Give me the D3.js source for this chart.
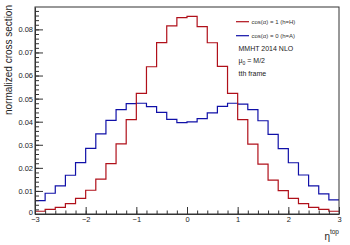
<!DOCTYPE html>
<html>
<head>
<meta charset="utf-8">
<script src="https://cdn.jsdelivr.net/npm/d3@7"></script>
<style>
  body { margin: 0; background: #fff; }
  svg { font-family: "Liberation Sans", Arial, sans-serif; }
</style>
</head>
<body>
<div class="graph"></div>
<script>
// bin edges run from -3 to 3 in steps of 0.2
const binLow = [-3.0, -2.8, -2.6, -2.4, -2.2, -2.0, -1.8, -1.6, -1.4, -1.2,
                -1.0, -0.8, -0.6, -0.4, -0.2, 0.0, 0.2, 0.4, 0.6, 0.8,
                1.0, 1.2, 1.4, 1.6, 1.8, 2.0, 2.2, 2.4, 2.6, 2.8];
const binHigh = 3.0;

// cos(alpha) = 1 (h=H)
const scalarVals = [0.0012, 0.0020, 0.0029, 0.0045, 0.0068, 0.0103, 0.0151, 0.0218, 0.0304, 0.0409,
                    0.0523, 0.0638, 0.0743, 0.0815, 0.0851, 0.0856, 0.0812, 0.0742, 0.0640, 0.0523,
                    0.0409, 0.0303, 0.0216, 0.0147, 0.0101, 0.0068, 0.0045, 0.0029, 0.0020, 0.0012];
// cos(alpha) = 0 (h=A)
const pseudoVals = [0.0058, 0.0090, 0.0122, 0.0168, 0.0223, 0.0284, 0.0347, 0.0406, 0.0452, 0.0478,
                    0.0480, 0.0465, 0.0440, 0.0410, 0.0396, 0.0399, 0.0413, 0.0438, 0.0466, 0.0480,
                    0.0476, 0.0452, 0.0404, 0.0345, 0.0283, 0.0222, 0.0169, 0.0122, 0.0087, 0.0061];

const xTicks = [-3, -2, -1, 0, 1, 2, 3];
const xTickLabels = ['\u22123', '\u22122', '\u22121', '0', '1', '2', '3'];
const yTicks = [0, 0.01, 0.02, 0.03, 0.04, 0.05, 0.06, 0.07, 0.08];
const yTickLabels = ['0', '0.01', '0.02', '0.03', '0.04', '0.05', '0.06', '0.07', '0.08'];
const legendLabels = ['cos(\u03b1) = 1 (h=H)', 'cos(\u03b1) = 0 (h=A)'];

const dim = { w: 350, h: 245, left: 35, right: 339, top: 7, bottom: 214 };
const red = '#b0101a';
const blue = '#1010a8';

const svg = d3.select('.graph').append('svg').attr('width', dim.w).attr('height', dim.h);

const xScale = d3.scaleLinear().domain([-3, 3]).range([dim.left, dim.right]);
const yScale = d3.scaleLinear().domain([0, 0.0897]).range([dim.bottom, dim.top]);

// histograms
const stepLine = d3.line()
    .x(d => xScale(d[0]))
    .y(d => yScale(d[1]))
    .curve(d3.curveStepAfter);

const toPts = vals => {
    const pts = binLow.map((b, i) => [b, vals[i]]);
    pts.push([binHigh, vals[vals.length - 1]]);
    return pts;
};

svg.append('path').attr('d', stepLine(toPts(pseudoVals)))
    .attr('fill', 'none').attr('stroke', blue).attr('stroke-width', 1.2);
svg.append('path').attr('d', stepLine(toPts(scalarVals)))
    .attr('fill', 'none').attr('stroke', red).attr('stroke-width', 1.2);

// frame
svg.append('rect')
    .attr('x', dim.left).attr('y', dim.top)
    .attr('width', dim.right - dim.left).attr('height', dim.bottom - dim.top)
    .attr('fill', 'none').attr('stroke', '#333').attr('stroke-width', 1);

// x axis (ticks pointing inside)
const xMinor = d3.range(-30, 31, 2).map(v => v / 10);
svg.append('g').attr('transform', `translate(0,${dim.bottom})`)
    .call(d3.axisBottom(xScale).tickValues(xMinor).tickFormat('').tickSize(-3.5).tickSizeOuter(0))
    .call(g => g.select('.domain').remove());
const xAxis = svg.append('g').attr('transform', `translate(0,${dim.bottom})`)
    .call(d3.axisBottom(xScale).tickValues(xTicks).tickFormat((d, i) => xTickLabels[i])
        .tickSize(-7).tickSizeOuter(0).tickPadding(3))
    .call(g => g.select('.domain').attr('stroke', '#333'));
xAxis.selectAll('text').attr('font-size', 7.5).attr('fill', '#222')
    .attr('font-family', '"Liberation Sans", Arial, sans-serif');

// y axis
const yMinor = d3.range(0, 45).map(v => v * 0.002);
svg.append('g').attr('transform', `translate(${dim.left},0)`)
    .call(d3.axisLeft(yScale).tickValues(yMinor).tickFormat('').tickSize(-4).tickSizeOuter(0))
    .call(g => g.select('.domain').remove());
const yAxis = svg.append('g').attr('transform', `translate(${dim.left},0)`)
    .call(d3.axisLeft(yScale).tickValues(yTicks).tickFormat((d, i) => yTickLabels[i])
        .tickSize(-8).tickSizeOuter(0).tickPadding(2))
    .call(g => g.select('.domain').attr('stroke', '#333'));
yAxis.selectAll('text').attr('font-size', 7.5).attr('fill', '#222')
    .attr('font-family', '"Liberation Sans", Arial, sans-serif');
// lift the "0" a little so it does not sit on the "-3"
yAxis.selectAll('.tick').filter(d => d === 0).select('text').attr('dy', '0.05em');
svg.selectAll('.tick line').attr('stroke', '#333');

// axis titles
svg.append('text')
    .attr('transform', `translate(12,${dim.top - 2}) rotate(-90)`)
    .attr('text-anchor', 'end').attr('font-size', 10).attr('fill', '#222')
    .text('normalized cross section');

const xt = svg.append('text').attr('x', dim.right).attr('y', 240)
    .attr('text-anchor', 'end').attr('font-size', 10).attr('fill', '#222');
xt.append('tspan').text('\u03b7');
xt.append('tspan').attr('font-size', 6.5).attr('dy', -6).text('top');

// legend
const legColors = [red, blue];
const leg = svg.append('g');
legendLabels.forEach((t, i) => {
    const y = 21.7 + i * 14;
    leg.append('line').attr('x1', 236).attr('x2', 249).attr('y1', y).attr('y2', y)
        .attr('stroke', legColors[i]).attr('stroke-width', 1.2);
    leg.append('text').attr('x', 251.5).attr('y', y + 2).attr('font-size', 6).attr('fill', '#333').text(t);
});

const note = svg.append('g').attr('font-size', 7).attr('fill', '#222');
note.append('text').attr('x', 238.5).attr('y', 50.5).text('MMHT 2014 NLO');
const mu = note.append('text').attr('x', 238.5).attr('y', 63);
mu.append('tspan').text('\u03bc');
mu.append('tspan').attr('font-size', 5).attr('dy', 2).text('0');
mu.append('tspan').attr('dy', -2).text(' = M/2');
note.append('text').attr('x', 238.5).attr('y', 76).text('tth frame');
</script>
</body>
</html>
